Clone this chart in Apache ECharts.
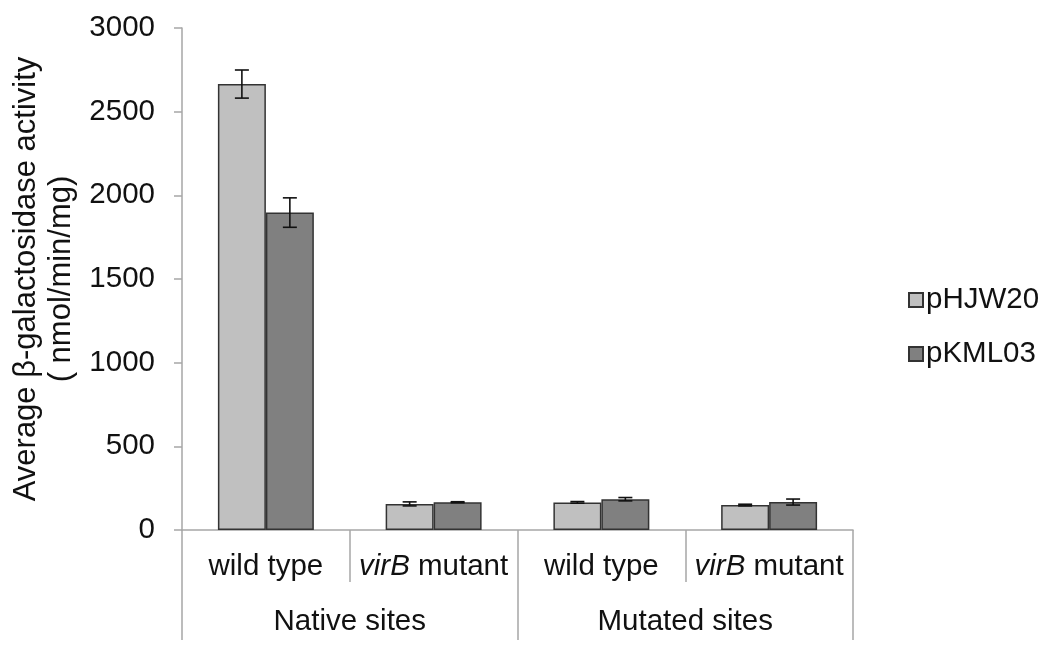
<!DOCTYPE html>
<html>
<head>
<meta charset="utf-8">
<script src="https://cdn.jsdelivr.net/npm/echarts@6/dist/echarts.min.js"></script>
<style>
  html, body { margin: 0; padding: 0; background: #fff; }
  #chart { width: 1050px; height: 649px; }
</style>
</head>
<body>
<div id="chart"></div>
<script>
var categories = ['wild type', 'virB mutant', 'wild type', 'virB mutant'];
var groups = ['Native sites', 'Mutated sites'];
var pHJW20 = [2665, 156, 165, 149];
var pHJW20Err = [84, 12, 5, 5];
var pKML03 = [1897, 166, 184, 167];
var pKML03Err = [88, 3, 10, 18];
var yTicks = [0, 500, 1000, 1500, 2000, 2500, 3000];

var font = '"Liberation Sans", Arial, sans-serif';
var textColor = '#111';
var axisGrey = '#a6a6a6';
var fs = 29.5;

// error bar rows: [category index, low, high]
function errRows(vals, errs) {
    var rows = [];
    for (var i = 0; i < vals.length; i++) {
        rows.push([i, vals[i] - errs[i], vals[i] + errs[i]]);
    }
    return rows;
}

function errorBar(side) {
    return function (params, api) {
        var c = api.value(0);
        var lo = api.coord([c, api.value(1)]);
        var hi = api.coord([c, api.value(2)]);
        var bw = api.size([1, 0])[0] * 0.286;
        var x = lo[0] + side * bw / 2;
        var cap = 7;
        var st = { stroke: '#111', lineWidth: 1.6 };
        return {
            type: 'group',
            children: [
                { type: 'line', shape: { x1: x, y1: lo[1], x2: x, y2: hi[1] }, style: st },
                { type: 'line', shape: { x1: x - cap, y1: lo[1], x2: x + cap, y2: lo[1] }, style: st },
                { type: 'line', shape: { x1: x - cap, y1: hi[1], x2: x + cap, y2: hi[1] }, style: st }
            ]
        };
    };
}

var chart = echarts.init(document.getElementById('chart'));
chart.setOption({
    animation: false,
    backgroundColor: '#fff',
    textStyle: { fontFamily: font },
    grid: { left: 182, right: 197, top: 28, bottom: 119 },
    legend: {
        orient: 'vertical',
        left: 903,
        top: 280,
        itemWidth: 14,
        itemHeight: 14,
        itemGap: 24,
        icon: 'rect',
        data: ['pHJW20', 'pKML03'],
        textStyle: { fontSize: fs, color: textColor, fontFamily: font, padding: [0, 0, 0, -2] }
    },
    xAxis: [
        {
            type: 'category',
            data: categories,
            position: 'bottom',
            axisLine: { lineStyle: { color: axisGrey, width: 1.5 } },
            axisTick: { show: true, interval: 0, length: 52, lineStyle: { color: axisGrey, width: 1.5 } },
            axisLabel: {
                interval: 0,
                margin: 22,
                fontSize: fs,
                color: textColor,
                fontFamily: font,
                formatter: function (v) {
                    if (v.indexOf('virB') === 0) {
                        return '{i|virB}' + v.slice(4);
                    }
                    return v;
                },
                rich: {
                    i: { fontStyle: 'italic', fontSize: fs, color: textColor, fontFamily: font }
                }
            }
        },
        {
            type: 'category',
            data: groups,
            position: 'bottom',
            offset: 52,
            axisLine: { show: false },
            axisTick: { show: true, interval: 0, length: 58, lineStyle: { color: axisGrey, width: 1.5 } },
            axisLabel: { interval: 0, margin: 25, fontSize: fs, color: textColor, fontFamily: font }
        }
    ],
    yAxis: {
        type: 'value',
        min: yTicks[0],
        max: yTicks[yTicks.length - 1],
        interval: 500,
        name: 'Average \u03b2-galactosidase activity\n( nmol/min/mg)',
        nameLocation: 'middle',
        nameRotate: 90,
        nameGap: 88,
        nameTextStyle: { fontSize: 31, color: textColor, fontFamily: font, lineHeight: 35 },
        axisLine: { show: true, lineStyle: { color: axisGrey, width: 1.5 } },
        axisTick: { show: true, length: 8, lineStyle: { color: axisGrey, width: 1.5 } },
        axisLabel: {
            margin: 27,
            fontSize: fs,
            color: textColor,
            fontFamily: font,
            formatter: function (v) { return String(v); }
        },
        splitLine: { show: false }
    },
    series: [
        {
            name: 'pHJW20',
            type: 'bar',
            data: pHJW20,
            barWidth: '28.6%',
            barGap: '0%',
            itemStyle: { color: '#c0c0c0', borderColor: '#333', borderWidth: 1.5 }
        },
        {
            name: 'pKML03',
            type: 'bar',
            data: pKML03,
            barWidth: '28.6%',
            barGap: '0%',
            itemStyle: { color: '#808080', borderColor: '#333', borderWidth: 1.5 }
        },
        {
            type: 'custom',
            name: 'errA',
            renderItem: errorBar(-1),
            data: errRows(pHJW20, pHJW20Err),
            encode: { x: 0, y: [1, 2] },
            z: 10,
            silent: true
        },
        {
            type: 'custom',
            name: 'errB',
            renderItem: errorBar(1),
            data: errRows(pKML03, pKML03Err),
            encode: { x: 0, y: [1, 2] },
            z: 10,
            silent: true
        }
    ]
});
</script>
</body>
</html>
